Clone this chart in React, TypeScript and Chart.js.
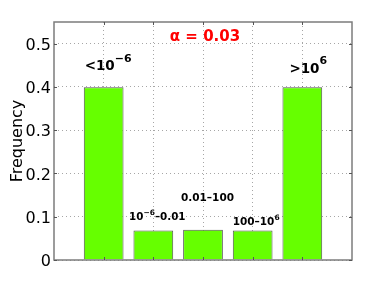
import React, { useEffect, useRef } from 'react';
import { Chart, registerables } from 'chart.js';

Chart.register(...registerables);

// ---- data ----
const binLabels = ['<10^{−6}', '10^{−6}–0.01', '0.01–100', '100–10^{6}', '>10^{6}'];
const binPositions = [1, 2, 3, 4, 5];
const frequencies = [0.399, 0.068, 0.07, 0.068, 0.399];
const yTickValues = [0, 0.1, 0.2, 0.3, 0.4, 0.5];
const yAxisTitle = 'Frequency';
const alphaLabel = 'α = 0.03';

const FONT = '"DejaVu Sans", sans-serif';

type Part = { t: string; sup: boolean };
function parseRich(s: string): Part[] {
  const parts: Part[] = [];
  const re = /\^\{([^}]*)\}/g;
  let last = 0;
  let m: RegExpExecArray | null;
  while ((m = re.exec(s))) {
    if (m.index > last) parts.push({ t: s.slice(last, m.index), sup: false });
    parts.push({ t: m[1], sup: true });
    last = re.lastIndex;
  }
  if (last < s.length) parts.push({ t: s.slice(last), sup: false });
  return parts;
}

function drawRich(ctx: CanvasRenderingContext2D, s: string, cx: number, baseline: number, size: number, supSize: number, rise: number, color: string) {
  const parts = parseRich(s);
  const fontFor = (p: Part) => `bold ${p.sup ? supSize : size}px ${FONT}`;
  let total = 0;
  for (const p of parts) {
    ctx.font = fontFor(p);
    total += ctx.measureText(p.t).width;
  }
  let x = cx - total / 2;
  ctx.fillStyle = color;
  ctx.textAlign = 'left';
  ctx.textBaseline = 'alphabetic';
  for (const p of parts) {
    ctx.font = fontFor(p);
    ctx.fillText(p.t, x, p.sup ? baseline - rise : baseline);
    x += ctx.measureText(p.t).width;
  }
}

// annotation placement (data coordinates), styles
const labelLayout = [
  { dx: 0.09, y: 0.439, size: 13.5, sup: 11, rise: 8.5 },
  { dx: 0.08, y: 0.0935, size: 10.3, sup: 7.5, rise: 5 },
  { dx: 0.09, y: 0.136, size: 10.5, sup: 7.5, rise: 5 },
  { dx: 0.07, y: 0.08, size: 10.5, sup: 7.5, rise: 5 },
  { dx: 0.12, y: 0.433, size: 13.5, sup: 11, rise: 8.5 },
];

const overlayPlugin = {
  id: 'overlay',
  afterDatasetsDraw(chart: any) {
    const ctx: CanvasRenderingContext2D = chart.ctx;
    const { left, right, top, bottom } = chart.chartArea;
    const xs = chart.scales.x;
    const ys = chart.scales.y;
    ctx.save();
    // frame
    ctx.strokeStyle = '#7c7c7c';
    ctx.lineWidth = 1.5;
    ctx.strokeRect(left, top, right - left, bottom - top);
    // inner tick marks
    ctx.strokeStyle = '#555';
    ctx.lineWidth = 1;
    const tl = 3;
    ctx.beginPath();
    for (const v of yTickValues) {
      const y = Math.round(ys.getPixelForValue(v)) + 0.5;
      ctx.moveTo(left, y); ctx.lineTo(left + tl, y);
      ctx.moveTo(right, y); ctx.lineTo(right - tl, y);
    }
    for (const v of binPositions) {
      const x = Math.round(xs.getPixelForValue(v)) + 0.5;
      ctx.moveTo(x, top); ctx.lineTo(x, top + tl);
      ctx.moveTo(x, bottom); ctx.lineTo(x, bottom - tl);
    }
    ctx.stroke();
    // bin labels
    binLabels.forEach((lab, i) => {
      const L = labelLayout[i];
      const cx = xs.getPixelForValue(binPositions[i] + L.dx);
      const by = ys.getPixelForValue(L.y);
      drawRich(ctx, lab, cx, by, L.size, L.sup, L.rise, '#000');
    });
    // alpha label
    ctx.font = `bold 15px ${FONT}`;
    ctx.fillStyle = '#ff0000';
    ctx.textAlign = 'center';
    ctx.textBaseline = 'alphabetic';
    ctx.fillText(alphaLabel, xs.getPixelForValue(3.04), ys.getPixelForValue(0.507));
    ctx.restore();
  },
};

export default function App() {
  const ref = useRef<HTMLCanvasElement>(null);
  useEffect(() => {
    if (!ref.current) return;
    const chart = new Chart(ref.current, {
      type: 'bar',
      data: {
        datasets: [
          {
            data: binPositions.map((x, i) => ({ x, y: frequencies[i] })),
            backgroundColor: '#66ff00',
            borderColor: '#555555',
            borderWidth: 1,
            barPercentage: 0.8,
            categoryPercentage: 1,
          },
        ],
      },
      options: {
        animation: false,
        responsive: false,
        events: [],
        layout: { padding: { left: 0, top: 22, right: 36, bottom: 32 } },
        plugins: { legend: { display: false }, tooltip: { enabled: false } },
        scales: {
          x: {
            type: 'linear',
            min: 0,
            max: 6,
            offset: false,
            afterBuildTicks: (s: any) => {
              s.ticks = binPositions.map((v) => ({ value: v }));
            },
            afterFit: (s: any) => {
              s.height = 0;
            },
            ticks: { display: false },
            grid: { color: 'rgba(0,0,0,0.35)', lineWidth: 1, drawTicks: false, offset: false },
            border: { display: false, dash: [1, 3] },
          },
          y: {
            type: 'linear',
            min: 0,
            max: 0.55,
            afterBuildTicks: (s: any) => {
              s.ticks = yTickValues.map((v) => ({ value: v }));
            },
            afterFit: (s: any) => {
              s.width = 54;
            },
            ticks: {
              font: { family: FONT, size: 16 },
              color: '#000',
              padding: 3,
              labelOffset: 2,
              callback: (v: any) => String(Math.round(Number(v) * 10) / 10),
            },
            title: {
              display: true,
              text: yAxisTitle,
              font: { family: FONT, size: 16 },
              color: '#000',
              padding: { top: 8, bottom: 0 },
            },
            grid: { color: 'rgba(0,0,0,0.35)', lineWidth: 1, drawTicks: false },
            border: { display: false, dash: [1, 3] },
          },
        },
      },
      plugins: [overlayPlugin],
    });
    return () => chart.destroy();
  }, []);
  return (
    <div style={{ position: 'absolute', left: 0, top: 0, width: 388, height: 292, background: '#fff' }}>
      <canvas ref={ref} width={388} height={292} style={{ display: 'block' }} />
    </div>
  );
}
